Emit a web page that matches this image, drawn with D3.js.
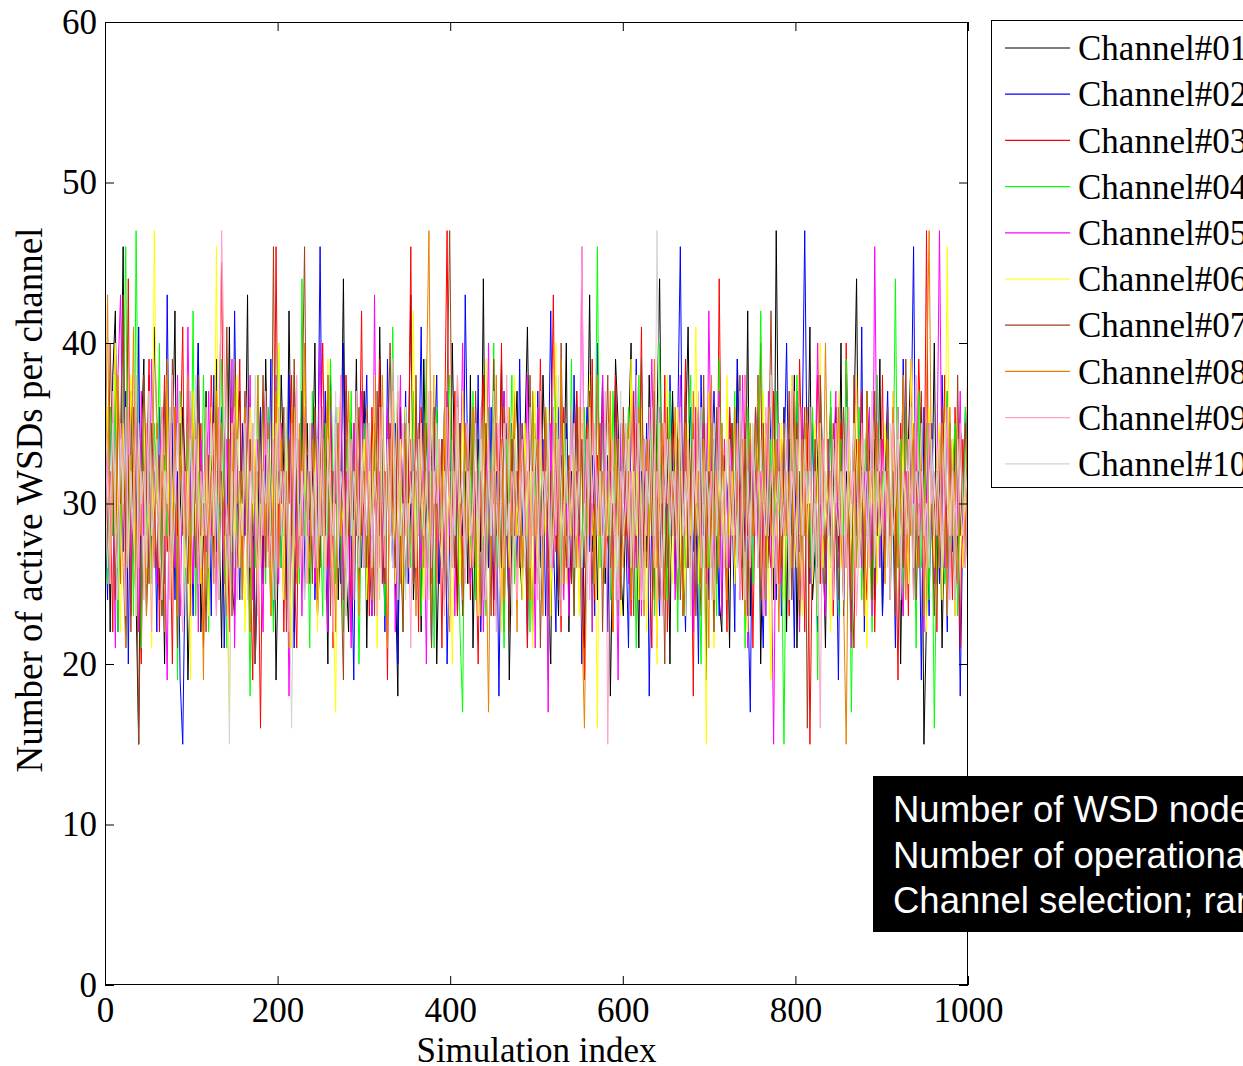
<!DOCTYPE html>
<html><head><meta charset="utf-8">
<script src="https://cdn.jsdelivr.net/npm/d3@7"></script>
<style>body{margin:0;background:#fff;overflow:hidden}svg{display:block}</style>
</head><body>
<svg id="chart" width="1243" height="1066"></svg>
<script>
const channelNames = ["Channel#01","Channel#02","Channel#03","Channel#04","Channel#05","Channel#06","Channel#07","Channel#08","Channel#09","Channel#10"];
const channelColors = ["#000000","#0000ff","#ff0000","#00ff00","#ff00ff","#ffff00","#a0401a","#e88000","#ffa0c8","#d4d4cc"];
const xTicks = [0,200,400,600,800,1000];
const yTicks = [0,10,20,30,40,50,60];
const infoLines = ["Number of WSD nodes: 300","Number of operational channels: 10","Channel selection; random"];

const ch01 = [28,36,22,38,42,25,33,46,21,31,37,27,24,15,34,39,23,30,26,41,
35,24,31,20,38,27,33,42,23,29,36,32,19,26,35,30,40,22,28,37,
24,33,27,39,30,21,35,28,41,25,23,34,37,26,30,43,22,32,20,29,
36,26,39,31,23,34,19,28,38,32,25,42,30,22,33,27,37,24,35,29,
31,40,23,27,36,30,20,38,28,33,24,31,44,26,22,35,29,39,25,30,
37,21,32,27,35,24,41,30,23,33,28,38,26,18,36,29,25,32,43,24,
29,35,22,39,30,26,33,37,20,28,34,24,36,27,40,31,23,35,28,32,
25,38,21,30,34,27,44,24,32,29,36,23,31,39,26,35,19,28,33,37,
27,24,34,41,30,22,35,28,26,38,32,25,20,36,29,23,33,30,40,22,
32,26,37,29,35,21,31,43,27,34,24,30,38,25,33,18,28,39,35,26,
23,31,34,40,26,29,21,36,32,27,38,30,24,35,44,28,25,33,20,37,
30,26,35,23,34,41,28,22,32,36,25,31,19,37,29,34,27,24,22,33,
31,21,35,28,39,25,33,27,42,23,34,30,37,20,29,35,26,32,24,47,
30,26,36,22,34,28,38,21,32,25,35,30,41,24,27,33,37,29,21,34,
26,31,36,27,40,23,32,29,22,35,44,26,30,24,37,33,25,34,28,39,
23,30,35,27,33,25,36,20,31,28,34,39,24,32,27,36,15,23,35,29,
40,25,33,21,30,37,26,34,24,28,35,31,26,33];
const ch02 = [30,24,36,28,39,22,33,27,37,20,35,31,25,41,23,34,28,38,26,32,
22,36,30,25,43,28,35,24,32,19,15,27,37,31,23,34,40,26,29,35,
32,23,38,27,30,36,21,29,34,25,42,31,24,35,28,37,26,33,20,30,
36,25,33,28,39,23,31,35,26,32,24,38,29,21,34,30,37,25,33,27,
35,24,30,46,28,37,22,32,26,36,30,25,40,23,34,28,19,35,31,26,
33,38,27,23,36,30,28,34,22,39,31,26,35,20,32,29,37,25,30,34,
24,31,41,27,35,29,21,33,38,25,30,36,20,28,34,26,37,31,23,43,
32,25,35,28,38,22,30,33,26,36,24,32,18,31,37,28,23,35,30,26,
39,28,33,21,35,30,25,37,27,34,23,31,42,28,22,36,32,26,35,29,
25,38,28,34,20,31,36,27,33,23,40,30,28,35,22,32,26,37,31,24,
34,28,21,36,30,39,25,32,27,35,18,30,37,28,23,34,31,26,38,32,
25,35,46,28,22,33,36,27,30,20,38,28,34,24,32,37,30,23,35,28,
26,36,30,22,39,32,28,35,25,17,34,30,38,27,21,33,29,36,31,24,
35,23,32,40,28,30,21,37,27,34,47,31,25,35,28,22,38,32,26,30,
36,25,30,19,34,28,38,32,23,35,30,26,41,22,33,28,36,24,31,34,
23,32,37,27,30,21,35,28,39,30,25,34,46,26,32,19,36,30,23,35,
28,32,25,38,30,22,35,27,34,31,18,29,36,32];
const ch03 = [37,26,32,22,40,30,25,35,28,44,23,32,36,27,20,34,30,39,25,29,
35,22,32,38,27,30,20,36,28,33,41,25,31,23,37,32,27,35,21,30,
28,38,32,25,34,45,26,30,22,36,28,32,39,24,30,35,27,19,33,29,
16,32,37,27,30,25,46,28,35,22,32,30,38,26,21,34,28,36,31,25,
35,28,23,32,40,30,26,37,21,34,28,31,24,38,32,22,35,28,30,42,
26,34,23,36,30,28,39,25,32,19,35,31,27,37,28,23,34,30,46,26,
32,22,36,28,35,30,25,38,26,33,21,34,47,27,30,37,23,32,26,35,
31,24,36,28,20,34,38,26,32,30,23,35,28,40,22,33,30,25,37,28,
34,26,30,21,36,32,25,28,39,30,35,23,32,43,27,30,22,36,28,33,
25,32,37,30,27,19,35,28,39,24,33,30,36,26,28,34,22,38,31,25,
35,28,32,23,37,27,30,41,25,34,28,21,36,30,32,26,38,22,30,35,
28,24,34,30,39,26,32,18,36,28,23,35,30,37,26,32,25,44,28,30,
22,36,32,26,35,30,24,38,28,34,21,32,30,40,24,35,28,26,37,31,
25,34,28,32,23,36,30,26,39,32,22,35,15,28,31,38,25,34,27,32,
36,23,30,28,35,25,40,32,26,21,34,30,37,28,24,32,35,22,30,28,
38,26,32,24,36,30,19,35,28,32,23,37,26,30,39,33,28,47,25,32,
30,22,35,28,38,26,32,24,36,30,21,34,28,32];
const ch04 = [32,25,36,28,38,22,30,35,46,26,33,23,47,31,21,37,28,32,25,35,
30,40,23,33,28,36,26,32,19,37,30,25,35,28,42,23,32,27,38,30,
22,35,28,32,25,39,30,21,34,27,37,28,32,24,36,30,18,35,26,38,
28,32,25,36,30,22,34,40,26,30,35,23,28,38,32,25,44,28,31,21,
37,26,33,30,23,35,28,39,32,25,36,30,22,34,28,37,26,32,20,30,
35,25,32,28,38,26,30,36,23,33,28,41,30,24,32,22,35,30,26,37,
28,34,23,30,39,26,32,21,36,28,30,25,35,38,26,32,30,22,17,34,
30,26,37,24,32,35,28,23,36,30,40,26,32,28,21,34,30,38,25,32,
26,35,28,30,22,37,32,25,34,28,36,19,30,26,38,32,24,35,30,28,
39,23,32,30,26,36,28,34,22,30,46,26,35,28,32,24,37,30,23,34,
28,32,36,25,30,21,38,26,34,30,28,35,23,32,40,26,30,24,37,28,
32,22,35,30,26,34,38,24,30,28,20,36,32,26,35,30,23,39,28,32,
25,34,30,37,26,28,32,21,36,30,25,35,28,42,32,23,30,34,26,37,
30,28,15,32,24,35,30,38,22,34,28,32,26,36,30,19,35,25,32,28,
37,26,30,23,34,28,39,32,17,30,26,36,24,32,35,28,22,30,38,26,
32,28,35,24,30,44,26,34,23,36,30,28,32,21,37,26,30,35,24,32,
16,28,34,30,25,37,26,32,35,23,30,28,36,30];
const ch05 = [24,35,28,32,21,38,43,30,26,36,25,32,30,22,37,28,34,26,39,30,
25,32,36,28,19,35,30,26,38,23,32,28,41,30,25,35,22,34,30,27,
37,28,32,23,36,30,25,34,28,39,21,32,30,26,35,28,38,24,30,34,
28,22,36,32,26,30,38,25,35,28,32,18,30,37,26,34,23,36,30,28,
35,25,32,40,28,30,22,36,26,34,30,38,24,32,28,21,35,30,26,37,
30,28,34,23,43,26,32,30,25,36,28,35,22,30,38,26,32,28,34,25,
36,30,26,32,20,35,28,38,25,30,34,26,37,28,32,23,35,30,40,26,
32,25,30,36,28,34,22,30,40,26,32,35,28,23,37,30,25,34,28,32,
26,35,30,38,25,32,21,36,28,30,34,17,35,26,32,28,37,24,30,23,
36,28,32,26,46,30,25,35,22,34,30,28,38,26,32,36,24,30,19,35,
28,32,25,37,30,26,35,23,34,28,32,39,30,21,36,26,30,35,28,32,
24,30,38,28,34,26,32,22,36,30,28,35,25,42,32,26,30,37,23,34,
30,26,35,28,32,24,38,30,21,34,28,36,26,32,30,23,37,28,15,32,
35,25,30,34,28,38,26,32,22,36,30,28,35,25,32,40,30,26,23,34,
28,32,37,26,30,24,35,28,21,34,38,30,26,32,28,36,23,46,30,26,
34,28,32,25,37,30,35,26,23,32,28,39,30,36,26,32,22,30,35,28,
25,32,47,30,26,36,28,34,23,30,37,26,32,28];
const ch06 = [30,36,25,32,40,28,22,35,30,26,38,32,23,34,28,37,25,30,21,47,
32,26,35,28,38,24,30,34,22,36,30,26,32,19,37,28,35,25,30,33,
23,36,28,46,26,32,30,25,17,35,28,38,26,32,22,30,36,28,34,25,
30,37,26,32,23,35,28,40,30,24,34,28,21,36,32,26,30,38,25,32,
28,35,22,30,34,26,39,32,25,17,36,28,30,23,35,32,26,37,28,30,
34,24,32,28,38,21,30,35,26,32,28,37,25,30,34,23,36,28,32,42,
26,30,35,24,32,28,22,38,30,34,26,36,28,32,20,30,35,25,37,28,
32,26,30,36,23,34,28,39,30,25,35,28,32,22,36,30,26,34,38,28,
30,24,35,28,32,21,37,26,34,30,28,36,23,32,40,26,30,35,25,32,
28,34,30,23,36,26,32,38,28,30,16,35,25,32,28,37,30,26,34,23,
35,30,28,39,26,32,24,36,30,22,34,28,32,20,35,26,30,38,28,25,
32,36,26,30,23,35,28,32,41,25,30,34,15,37,28,21,32,30,35,26,
38,28,32,25,30,36,26,34,22,30,28,35,32,24,37,30,26,19,34,28,
30,35,24,32,28,38,26,30,34,23,36,28,32,25,35,30,40,26,32,28,
22,34,30,37,26,32,28,35,24,30,38,26,34,28,21,32,30,36,25,32,
28,35,30,26,37,23,32,28,34,30,25,39,32,26,30,35,28,22,36,30,
26,32,35,24,30,46,28,34,23,36,30,26,32,28];
const ch07 = [35,27,40,32,24,37,30,43,26,33,22,36,30,15,28,38,32,25,35,30,
26,33,23,37,30,28,39,32,21,35,28,30,25,36,32,26,38,28,30,22,
33,30,26,36,24,32,28,41,30,23,35,26,32,30,37,25,34,28,20,32,
30,38,26,35,28,46,25,32,30,36,22,34,28,39,30,26,35,46,28,32,
25,36,30,26,34,28,38,23,32,30,35,26,19,37,28,32,24,30,36,28,
32,26,35,30,23,37,28,34,25,32,40,30,26,36,28,22,34,30,32,25,
38,28,30,35,26,32,21,36,30,28,34,24,37,47,32,26,30,35,23,28,
34,30,26,37,28,32,24,35,30,23,39,28,32,26,36,30,22,34,28,32,
26,35,30,24,38,28,32,34,21,30,36,26,32,28,35,24,40,30,26,32,
30,23,36,28,34,26,32,37,25,30,28,35,22,32,38,26,30,28,34,24,
36,30,26,32,23,35,28,39,30,26,34,28,37,32,24,30,20,36,28,32,
28,34,24,30,37,26,32,35,23,30,28,38,26,32,30,22,36,28,34,30,
25,32,35,28,30,38,26,34,23,32,28,36,30,24,35,26,32,42,28,30,
34,26,32,28,37,24,30,35,23,32,36,16,30,28,34,26,38,30,25,32,
28,35,30,24,32,36,26,30,22,38,28,34,32,26,35,30,24,37,28,32,
30,26,36,28,32,23,35,30,26,39,28,32,34,24,30,37,28,26,35,30,
23,32,28,36,30,26,34,30,24,38,28,32,35,26];
const ch08 = [30,43,25,35,28,38,32,26,21,36,30,41,24,33,28,32,23,37,30,26,
35,28,32,22,39,30,26,36,23,33,30,28,38,25,32,35,26,30,19,36,
28,32,25,37,30,35,26,23,34,28,39,30,32,24,36,28,22,34,30,38,
26,32,28,35,23,30,37,26,34,28,32,21,36,30,25,35,28,40,30,26,
34,30,24,36,28,32,38,26,30,22,35,28,32,25,37,30,26,34,23,32,
30,36,28,24,35,32,26,38,30,21,34,28,32,37,25,30,35,26,28,32,
23,35,30,26,37,47,28,32,25,34,30,36,26,22,32,28,38,30,24,35,
28,32,36,26,30,23,35,28,17,32,30,38,26,34,24,30,36,28,32,22,
35,26,30,32,24,37,28,34,30,23,36,32,26,28,35,30,39,25,32,28,
30,34,26,36,23,16,28,35,30,25,38,28,32,26,30,37,22,34,28,32,
26,30,35,24,32,28,36,30,23,34,28,32,39,26,30,35,24,28,32,30,
36,28,32,23,35,30,26,37,28,32,25,34,30,21,38,28,32,26,35,30,
24,32,28,36,30,26,34,23,32,35,28,30,38,26,32,24,36,28,30,34,
22,30,35,28,32,26,37,30,24,34,28,36,32,26,30,23,35,28,40,30,
32,26,30,36,28,24,15,32,30,35,26,34,28,23,37,30,32,26,35,28,
30,25,34,28,36,32,26,30,38,24,32,28,35,30,26,34,23,37,47,30,
28,32,26,35,30,23,36,28,32,25,34,30,26,41];
const ch09 = [28,34,25,37,30,26,35,32,23,36,30,28,38,26,32,24,35,30,22,33,
30,26,36,28,32,24,38,30,35,26,22,32,28,37,30,34,25,32,28,36,
26,30,35,23,32,47,39,30,26,34,36,24,30,28,32,37,26,35,30,23,
32,28,37,26,30,34,24,36,28,32,30,22,35,28,38,26,32,30,25,35,
30,26,34,28,36,24,32,30,22,35,28,38,32,26,30,34,24,37,28,32,
26,35,30,28,32,23,36,30,26,34,28,39,30,24,32,35,28,30,21,34,
32,28,35,30,24,37,26,32,30,34,28,23,36,30,26,32,38,28,30,25,
35,30,26,32,28,36,24,30,34,28,32,22,35,30,26,38,28,32,30,24,
30,34,28,35,26,32,30,24,37,28,32,30,26,36,28,34,23,30,32,28,
36,26,30,32,46,28,34,24,30,35,28,32,26,37,15,30,34,28,24,32,
30,35,28,32,26,38,30,24,34,28,36,30,26,32,28,23,35,30,34,28,
32,26,36,30,28,34,24,32,30,37,26,30,35,28,32,24,30,36,28,32,
26,34,30,28,35,24,32,38,30,26,34,28,32,30,23,36,28,32,30,25,
35,30,28,32,26,37,30,34,28,24,32,30,36,26,32,28,16,34,30,28,
32,24,35,30,28,34,26,36,30,32,23,28,35,30,32,26,37,28,30,34,
28,32,30,24,35,30,36,26,32,28,34,30,24,38,28,32,30,26,35,30,
32,28,34,26,30,36,24,32,30,28,35,30,26,32];
const ch10 = [32,26,30,35,28,24,34,30,36,26,32,28,23,35,30,32,26,37,28,30,
34,28,24,32,30,36,26,30,35,28,32,23,30,34,28,38,30,26,32,28,
30,35,28,32,24,30,36,28,15,32,26,34,30,28,35,24,32,30,38,28,
26,32,30,34,28,24,35,30,32,28,36,26,16,30,34,28,32,24,30,35,
28,32,26,36,30,24,34,30,28,37,26,32,30,23,35,28,32,30,26,34,
30,28,35,26,32,30,24,36,28,34,30,26,32,38,28,30,24,35,30,32,
26,34,30,28,32,24,37,30,35,28,26,32,30,23,34,28,36,30,32,26,
32,28,30,35,26,34,30,24,32,28,37,30,26,32,35,28,30,23,34,30,
28,32,26,30,36,28,34,30,24,32,30,35,26,28,32,38,30,28,34,26,
30,35,28,32,26,30,24,36,30,34,28,32,26,30,35,28,32,24,30,37,
28,30,34,26,32,28,35,30,24,32,30,36,28,47,32,26,30,34,28,32,
30,26,35,28,32,30,23,34,30,28,36,26,32,30,24,35,28,32,30,26,
34,30,28,32,26,37,30,24,32,28,35,30,26,34,30,28,32,38,26,30,
32,28,30,35,24,32,30,26,36,28,34,30,32,26,30,23,35,28,32,30,
26,34,30,28,32,24,36,30,28,35,32,26,30,34,28,30,37,26,32,28,
30,32,26,35,28,30,34,24,32,30,28,36,26,32,30,35,28,30,26,34,
28,32,30,26,35,30,28,32,24,34,30,28,32,30];

const channels = [ch01,ch02,ch03,ch04,ch05,ch06,ch07,ch08,ch09,ch10];

const svg = d3.select("#chart");
const L = 105, R = 968, T = 22, B = 985;
const x = d3.scaleLinear().domain([0,1000]).range([L,R]);
const y = d3.scaleLinear().domain([0,60]).range([B,T]);
const serif = "'Liberation Serif','Times New Roman',Times,serif";

svg.append("defs").append("clipPath").attr("id","plotclip")
  .append("rect").attr("x",L).attr("y",T).attr("width",R-L).attr("height",B-T);

const gLines = svg.append("g").attr("clip-path","url(#plotclip)");
channels.forEach((vals,k) => {
  const n = vals.length;
  const line = d3.line().x((d,i) => x(i*1000/(n-1))).y(d => y(d));
  gLines.append("path").datum(vals)
    .attr("d", line).attr("fill","none")
    .attr("stroke", channelColors[k]).attr("stroke-width",1);
});

function styleAxis(g){
  g.select(".domain").remove();
  g.selectAll(".tick line").attr("stroke","#000").attr("stroke-width",1);
  g.selectAll("text").attr("font-family",serif).attr("font-size",35).attr("fill","#000");
}
const fmt = d3.format("d");
svg.append("g").attr("transform",`translate(0,${B})`)
  .call(d3.axisBottom(x).tickValues(xTicks).tickFormat(fmt).tickSize(-9).tickPadding(12))
  .call(styleAxis);
svg.append("g").attr("transform",`translate(0,${T})`)
  .call(d3.axisTop(x).tickValues(xTicks).tickSize(-9).tickFormat(""))
  .call(styleAxis);
svg.append("g").attr("transform",`translate(${L},0)`)
  .call(d3.axisLeft(y).tickValues(yTicks).tickFormat(fmt).tickSize(-9).tickPadding(8))
  .call(styleAxis);
svg.append("g").attr("transform",`translate(${R},0)`)
  .call(d3.axisRight(y).tickValues(yTicks).tickSize(-9).tickFormat(""))
  .call(styleAxis);

svg.append("rect").attr("x",L+0.5).attr("y",T+0.5).attr("width",R-L-1).attr("height",B-T-1)
  .attr("fill","none").attr("stroke","#000").attr("stroke-width",1);

svg.append("text").attr("x",(L+R)/2).attr("y",1062).attr("text-anchor","middle")
  .attr("font-family",serif).attr("font-size",35).text("Simulation index");
svg.append("text").attr("transform",`translate(42,500) rotate(-90)`)
  .attr("text-anchor","middle").attr("font-family",serif).attr("font-size",37)
  .text("Number of active WSDs per channel");

// legend
const lg = svg.append("g");
lg.append("rect").attr("x",991.5).attr("y",20.5).attr("width",300).attr("height",467)
  .attr("fill","#fff").attr("stroke","#000").attr("stroke-width",1);
channelNames.forEach((nm,k) => {
  const yy = 48 + k*46.2;
  lg.append("line").attr("x1",1005).attr("x2",1070).attr("y1",yy).attr("y2",yy)
    .attr("stroke",channelColors[k]).attr("stroke-width",1.2);
  lg.append("text").attr("x",1078).attr("y",yy).attr("dy","0.35em")
    .attr("font-family",serif).attr("font-size",35).text(nm);
});

// info box
const ib = svg.append("g");
ib.append("rect").attr("x",873).attr("y",776).attr("width",420).attr("height",156).attr("fill","#000");
infoLines.forEach((t,k) => {
  ib.append("text").attr("x",893).attr("y",822 + k*45.5)
    .attr("font-family","'Liberation Sans',Arial,Helvetica,sans-serif").attr("font-size",36.5)
    .attr("fill","#fff").text(t);
});
</script>
</body></html>
